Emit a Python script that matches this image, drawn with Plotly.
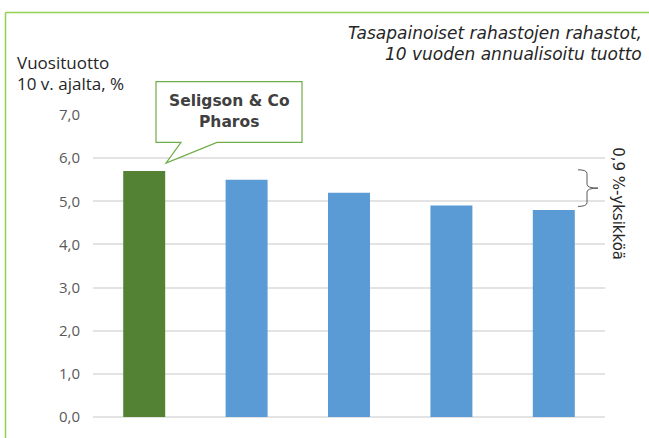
import plotly.graph_objects as go

# ---- data ----
categories = ["Seligson & Co Pharos", "Rahasto B", "Rahasto C", "Rahasto D", "Rahasto E"]
values = [5.7, 5.5, 5.2, 4.9, 4.8]
bar_colors = ["#548235", "#5B9BD5", "#5B9BD5", "#5B9BD5", "#5B9BD5"]
y_ticks = [0, 1, 2, 3, 4, 5, 6, 7]
y_tick_labels = ["0,0", "1,0", "2,0", "3,0", "4,0", "5,0", "6,0", "7,0"]
title_lines = ["Tasapainoiset rahastojen rahastot,", "10 vuoden annualisoitu tuotto"]
ylabel_lines = ["Vuosituotto", "10 v. ajalta, %"]
callout_lines = ["Seligson & Co", "Pharos"]
brace_text = "0,9 %-yksikköä"

W, H = 649, 438
ML, MR, MT, MB = 93, 44, 115, 15
PW = W - ML - MR
PH = H - MT - MB

def px(x):  # pixel x -> paper
    return (x - ML) / PW

def py(y):  # pixel y -> paper
    return (H - MB - y) / PH

fig = go.Figure()
fig.add_trace(go.Bar(
    x=categories, y=values, marker=dict(color=bar_colors, line=dict(width=0)),
    width=0.41, hoverinfo="skip", showlegend=False,
))

shapes = []
# outer green frame (left + top edges)
shapes.append(dict(type="line", xref="paper", yref="paper",
                   x0=px(5.5), x1=px(660), y0=py(10.5), y1=py(10.5),
                   line=dict(color="#92D050", width=1.5)))
shapes.append(dict(type="line", xref="paper", yref="paper",
                   x0=px(5.5), x1=px(5.5), y0=py(10.5), y1=py(450),
                   line=dict(color="#92D050", width=1.5)))

# callout box with tail
cb = [(156, 81), (302, 81), (302, 143), (217, 143), (166, 164), (181, 143), (156, 143)]
path = "M " + " L ".join(f"{px(a):.5f},{py(b):.5f}" for a, b in cb) + " Z"
shapes.append(dict(type="path", xref="paper", yref="paper", path=path,
                   fillcolor="white", line=dict(color="#70AD47", width=1.2), layer="above"))

# brace spanning the difference between best and worst
top = max(values) + 0.03
bot = min(values) + 0.08
mid = (top + bot) / 2
r = 0.09
xl, xh, xt = px(587), px(578), px(598)
bpath = (f"M {xh},{top} Q {xl},{top} {xl},{top - r} L {xl},{mid + r} "
         f"Q {xl},{mid} {xt},{mid} Q {xl},{mid} {xl},{mid - r} "
         f"L {xl},{bot + r} Q {xl},{bot} {xh},{bot}")
shapes.append(dict(type="path", xref="paper", yref="y", path=bpath,
                   line=dict(color="#595959", width=1)))

annotations = []
tfont = dict(family="DejaVu Sans", size=17, color="#262626")
for i, (t, yy) in enumerate(zip(title_lines, [31, 53])):
    annotations.append(dict(text=f"<i>{t}</i>", xref="paper", yref="paper",
                            x=px(644), y=py(yy), xanchor="right", yanchor="middle",
                            showarrow=False, font=tfont))
for t, yy in zip(ylabel_lines, [61, 83]):
    annotations.append(dict(text=t, xref="paper", yref="paper",
                            x=px(15), y=py(yy), xanchor="left", yanchor="middle",
                            showarrow=False,
                            font=dict(family="Open Sans", size=17, color="#262626")))
for t, yy in zip(callout_lines, [101, 122]):
    annotations.append(dict(text=f"<b>{t}</b>", xref="paper", yref="paper",
                            x=px(229), y=py(yy), xanchor="center", yanchor="middle",
                            showarrow=False,
                            font=dict(family="DejaVu Sans", size=15.5, color="#404040")))
annotations.append(dict(text=brace_text, xref="paper", yref="paper",
                        x=px(618), y=py(205), xanchor="center", yanchor="middle",
                        textangle=90, showarrow=False,
                        font=dict(family="DejaVu Sans", size=15, color="#262626")))

fig.update_layout(
    width=W, height=H,
    margin=dict(l=ML, r=MR, t=MT, b=MB, pad=0),
    paper_bgcolor="white", plot_bgcolor="white",
    shapes=shapes, annotations=annotations,
    xaxis=dict(showticklabels=False, showgrid=False, zeroline=False, showline=False,
               ticks="", range=[-0.5, 4.5], fixedrange=True),
    yaxis=dict(range=[0, 7], tickvals=y_ticks, ticktext=y_tick_labels,
               showgrid=True, gridcolor="#E3E3E3", gridwidth=1.5,
               zeroline=True, zerolinecolor="#E3E3E3", zerolinewidth=1.5,
               showline=False, ticks="", ticklabelstandoff=12,
               tickfont=dict(family="Open Sans", size=15, color="#595959"),
               fixedrange=True),
    bargap=0.6,
)

fig.write_html("out.html", config={"displayModeBar": False})
